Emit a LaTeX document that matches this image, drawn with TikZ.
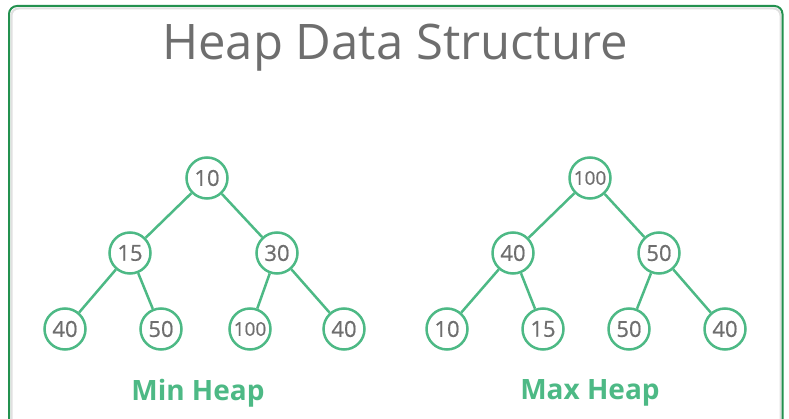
\documentclass[tikz,border=0pt]{standalone}
\usepackage{fontspec}
\setmainfont{Open Sans}
\newfontfamily\hnumfont[FakeBold=0.6]{Open Sans}
\begin{document}
\begin{tikzpicture}[x=1pt,y=-1pt,
  hnode/.style={circle,draw=hgreen,line width=2.5pt,minimum size=41pt,inner sep=0pt,text=hgray,font=\hnumfont\fontsize{22}{22}\selectfont},
  hsmall/.style={hnode,font=\hnumfont\fontsize{19}{19}\selectfont},
  hedge/.style={draw=hgreen,line width=2.5pt},
  hlabel/.style={text=hgreen,font=\fontsize{28}{28}\selectfont\bfseries}]
\definecolor{hgreen}{HTML}{4DB985}
\definecolor{hgray}{HTML}{6E6E6E}
\definecolor{hborder}{HTML}{23914F}
\useasboundingbox (0,0) rectangle (789,419);
\begin{scope}
\clip (0,0) rectangle (789,419);
\draw[draw=black!12,line width=2pt,rounded corners=7pt] (11.5,8.5) rectangle (780.5,440);
\draw[draw=hborder,line width=2pt,rounded corners=8pt] (9,6) rectangle (782.5,440);
\end{scope}
\node (title) [text=hgray,font=\fontsize{49}{49}\selectfont] at (395,48) {Heap Data Structure};
% min heap
\node[hnode] (a1) at (207,178) {10};
\node[hnode] (a2) at (130,253) {15};
\node[hnode] (a3) at (277,253) {30};
\node[hnode] (a4) at (65,329) {40};
\node[hnode] (a5) at (161,329) {50};
\node[hsmall] (a6) at (250,329) {100};
\node[hnode] (a7) at (344,329) {40};
\draw[hedge] (a1) -- (a2); \draw[hedge] (a1) -- (a3);
\draw[hedge] (a2) -- (a4); \draw[hedge] (a2) -- (a5);
\draw[hedge] (a3) -- (a6); \draw[hedge] (a3) -- (a7);
% max heap
\node[hsmall] (b1) at (590,178) {100};
\node[hnode] (b2) at (513,253) {40};
\node[hnode] (b3) at (659,253) {50};
\node[hnode] (b4) at (447,329) {10};
\node[hnode] (b5) at (543,329) {15};
\node[hnode] (b6) at (629,329) {50};
\node[hnode] (b7) at (725,329) {40};
\draw[hedge] (b1) -- (b2); \draw[hedge] (b1) -- (b3);
\draw[hedge] (b2) -- (b4); \draw[hedge] (b2) -- (b5);
\draw[hedge] (b3) -- (b6); \draw[hedge] (b3) -- (b7);
\node[hlabel] (minl) at (198,393) {Min Heap};
\node[hlabel] (maxl) at (590,393) {Max Heap};
\end{tikzpicture}
\end{document}
